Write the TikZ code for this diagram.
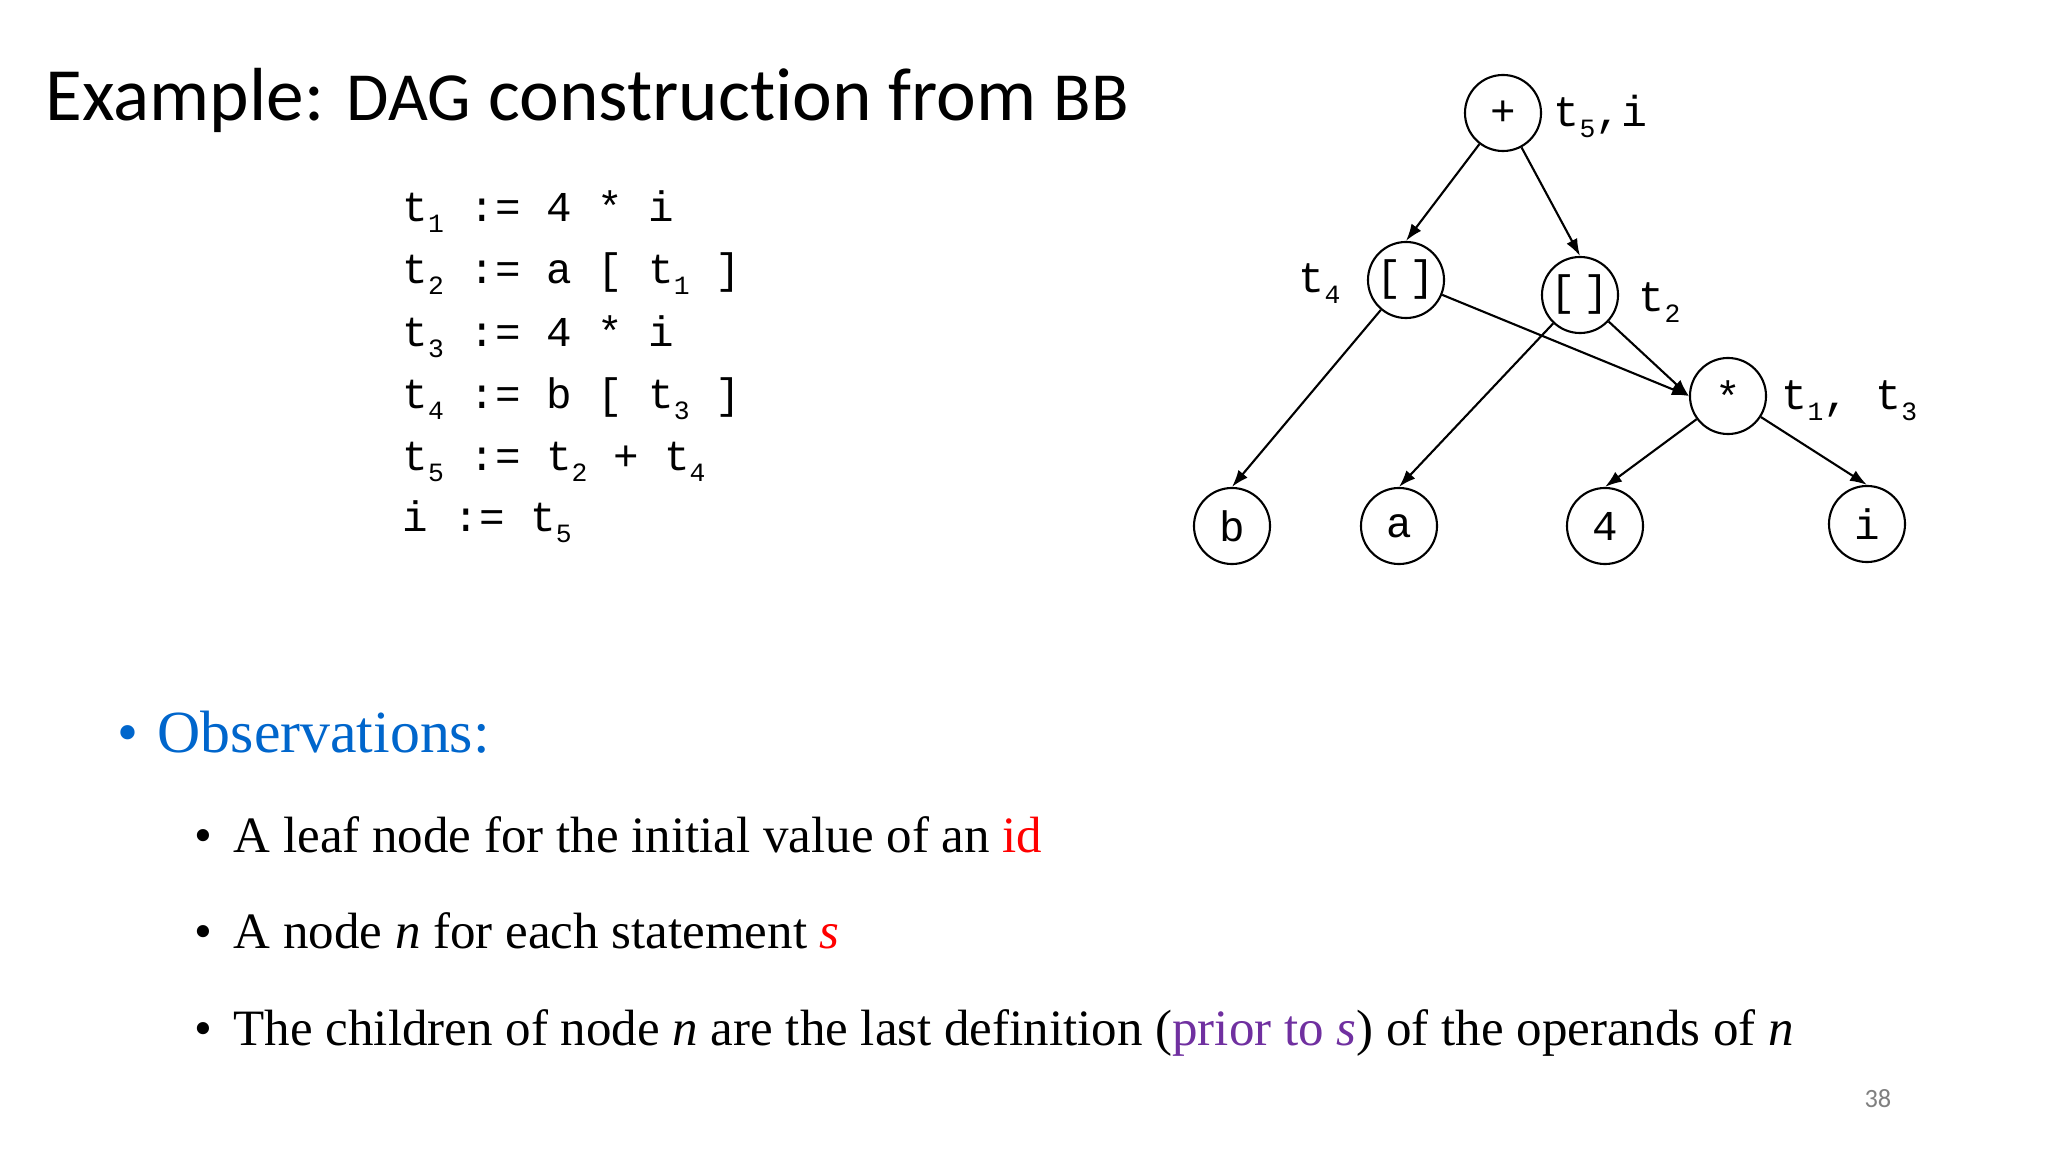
\documentclass[tikz,border=0pt]{standalone}
\usepackage{fontspec}
\setmainfont{Liberation Serif}
\newfontfamily\codefont{Liberation Mono}
\newfontfamily\titlefont[Ligatures=NoCommon]{Carlito}
\usetikzlibrary{arrows.meta}
\definecolor{obsblue}{RGB}{0,102,204}
\definecolor{prpl}{RGB}{112,48,160}
\definecolor{pgray}{RGB}{128,128,128}
\newcommand\sbs[1]{\raisebox{-0.1cm}{\fontsize{7.5}{8}\selectfont #1}}
\tikzset{
  dagnode/.style={draw, circle, minimum size=0.76cm, inner sep=0pt, line width=0.6pt,
    font=\codefont\fontsize{12.1}{14}\selectfont},
  dagarrow/.style={-{Latex[length=0.17cm,width=0.12cm]}, line width=0.6pt},
  codeline/.style={anchor=base west, inner sep=0pt, font=\codefont\fontsize{12.1}{14}\selectfont},
  lbl/.style={anchor=base west, inner sep=0pt, font=\codefont\fontsize{12.3}{14}\selectfont},
  bodytext/.style={anchor=base west, inner sep=0pt, font=\fontsize{14.5}{17}\selectfont},
}
\begin{document}
\begin{tikzpicture}[x=0.01cm, y=-0.01cm]
\fill[white] (0,0) rectangle (2048,1152);
\useasboundingbox (0,0) rectangle (2048,1152);

% title
\node[anchor=base west, inner sep=0pt, font=\titlefont\fontsize{21.4}{26}\selectfont] (title) at (45,121)
  {Example: {\fontsize{19.6}{24}\selectfont DAG} construction from {\fontsize{19.6}{24}\selectfont BB}};

% code
\node[codeline] (c1) at (402,222) {t\sbs{1} := 4 * i};
\node[codeline] (c2) at (402,284) {t\sbs{2} := a [ t\sbs{1} ]};
\node[codeline] (c3) at (402,347) {t\sbs{3} := 4 * i};
\node[codeline] (c4) at (402,409) {t\sbs{4} := b [ t\sbs{3} ]};
\node[codeline] (c5) at (402,471) {t\sbs{5} := t\sbs{2} + t\sbs{4}};
\node[codeline] (c6) at (402,532) {i := t\sbs{5}};

% DAG
\node[dagnode] (plus) at (1503,113) {+};
\node[dagnode] (idx4) at (1406,280) {[\kern2pt]};
\node[dagnode] (idx2) at (1580,295) {[\kern2pt]};
\node[dagnode] (star) at (1728,396) {*};
\node[dagnode] (b) at (1232,526) {b};
\node[dagnode] (a) at (1399,526) {a};
\node[dagnode] (four) at (1605,526) {4};
\node[dagnode] (i) at (1867,524) {i};

\node[lbl] (l5) at (1553,127) {t\sbs{5},i};
\node[lbl] (l4) at (1298,293) {t\sbs{4}};
\node[lbl] (l2) at (1638,312) {t\sbs{2}};
\node[lbl] (l13) at (1781,410) {t\sbs{1}, t\sbs{3}};

\draw[dagarrow] (plus) -- (idx4.north);
\draw[dagarrow] (plus) -- (idx2.north);
\draw[dagarrow] (idx4) -- (b.north);
\draw[dagarrow] (idx4) -- (star.west);
\draw[dagarrow] (idx2) -- (a.north);
\draw[dagarrow] (idx2) -- (star.west);
\draw[dagarrow] (star) -- (four.north);
\draw[dagarrow] (star) -- (i.north);

% observations
\node[anchor=base, inner sep=0pt, text=obsblue, font=\fontsize{17}{20}\selectfont] (ob) at (128,752) {•};
\node[anchor=base west, inner sep=0pt, text=obsblue, font=\fontsize{17}{20}\selectfont] (obt) at (157,752) {Observations:};

\node[anchor=base, inner sep=0pt, font=\fontsize{14.5}{17}\selectfont] (b1) at (203,852) {•};
\node[bodytext] (t1) at (233,852) {A leaf node for the initial value of an \textcolor{red}{id}};
\node[anchor=base, inner sep=0pt, font=\fontsize{14.5}{17}\selectfont] (b2) at (203,948) {•};
\node[bodytext] (t2) at (233,948) {A node \textit{n} for each statement \textcolor{red}{\textit{s}}};
\node[anchor=base, inner sep=0pt, font=\fontsize{14.5}{17}\selectfont] (b3) at (203,1045) {•};
\node[bodytext] (t3) at (233,1045) {The children of node \textit{n} are the last definition (\textcolor{prpl}{prior to \textit{s}}) of the operands of \textit{n}};

\node[anchor=base east, inner sep=0pt, text=pgray, font=\titlefont\fontsize{7.5}{9}\selectfont] (pg) at (1892,1107) {38};
\end{tikzpicture}
\end{document}
